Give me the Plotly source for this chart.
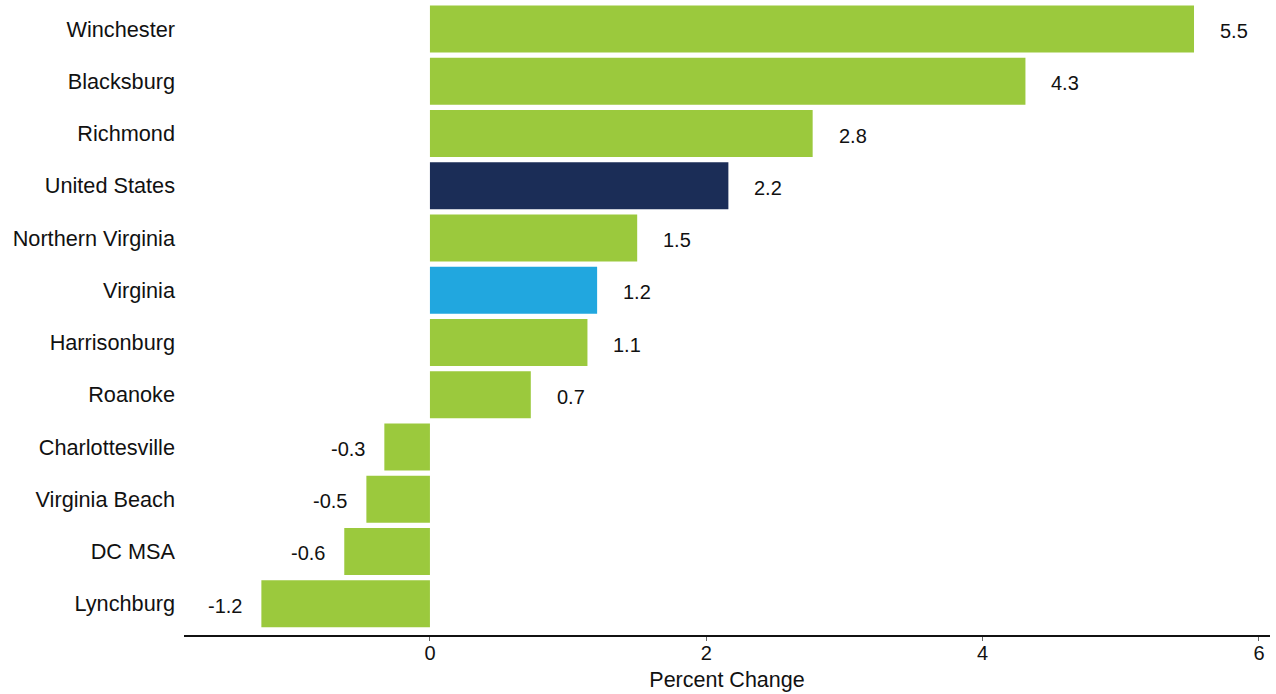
import plotly.graph_objects as go

categories = ["Winchester", "Blacksburg", "Richmond", "United States", "Northern Virginia",
              "Virginia", "Harrisonburg", "Roanoke", "Charlottesville", "Virginia Beach",
              "DC MSA", "Lynchburg"]
values = [5.53, 4.31, 2.77, 2.16, 1.50, 1.21, 1.14, 0.73, -0.33, -0.46, -0.62, -1.22]
labels = ["5.5", "4.3", "2.8", "2.2", "1.5", "1.2", "1.1", "0.7", "-0.3", "-0.5", "-0.6", "-1.2"]

GREEN = "#9BC93D"
NAVY = "#1B2D57"
BLUE = "#21A7DF"
colors = [NAVY if c == "United States" else BLUE if c == "Virginia" else GREEN for c in categories]

fig = go.Figure()
fig.add_trace(go.Bar(
    y=categories, x=values, orientation="h",
    marker=dict(color=colors, line=dict(width=0)),
    hoverinfo="x+y",
))

for c, v, t in zip(categories, values, labels):
    fig.add_annotation(
        x=v, y=c, text=t, showarrow=False,
        xanchor="left" if v >= 0 else "right",
        xshift=24 if v >= 0 else -17,
        yshift=-2,
        font=dict(family="Liberation Sans, Arial, sans-serif", size=20, color="#111111"),
    )

fig.update_layout(
    width=1276, height=694,
    margin=dict(l=184, r=6, t=3, b=59),
    plot_bgcolor="white", paper_bgcolor="white",
    bargap=0.1,
    showlegend=False,
    font=dict(family="Liberation Sans, Arial, sans-serif", color="#111111"),
    xaxis=dict(
        range=[-1.78, 6.08],
        tickvals=[0, 2, 4, 6],
        showgrid=False, zeroline=False,
        showline=True, linecolor="#111111", linewidth=2,
        ticks="outside", ticklen=4, tickwidth=1, tickcolor="#666666",
        tickfont=dict(size=20),
        ticklabelstandoff=-5,
        title=dict(text="Percent Change", font=dict(size=21.5), standoff=9),
        automargin=False,
    ),
    yaxis=dict(
        categoryorder="array", categoryarray=categories,
        range=[11.6, -0.5],
        showgrid=False, zeroline=False, showline=False,
        ticks="", tickfont=dict(size=21.7),
        ticklabelstandoff=8,
        automargin=False,
    ),
)

fig.write_html(
    "out.html",
    config={"displayModeBar": False},
    post_script="document.body.style.margin='0';document.body.style.overflow='hidden';",
)
